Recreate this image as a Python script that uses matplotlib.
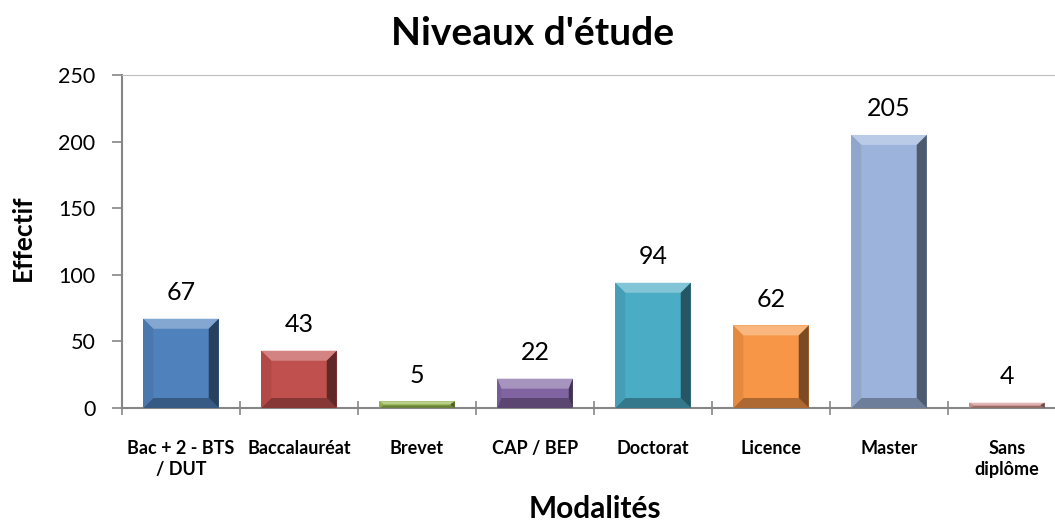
import numpy as np
import matplotlib
matplotlib.use('Agg')
import matplotlib.pyplot as plt
from matplotlib.patches import Polygon
from matplotlib.colors import to_rgb

# Data
categories = ['Bac + 2 - BTS\n/ DUT', 'Baccalauréat', 'Brevet', 'CAP / BEP',
              'Doctorat', 'Licence', 'Master', 'Sans\ndiplôme']
counts = [67, 43, 5, 22, 94, 62, 205, 4]
colors = ['#4F81BD', '#C0504D', '#9BBB59', '#8064A2',
          '#4BACC6', '#F79646', '#9CB4DC', '#D49A98']
y_ticks = [0, 50, 100, 150, 200, 250]

plt.rcParams['font.family'] = ['Lato', 'DejaVu Sans']

fig = plt.figure(figsize=(10.55, 5.22), dpi=100)
ax = fig.add_axes([122 / 1055, 1 - 408 / 522, 944 / 1055, 333 / 522])

x = np.arange(len(categories))
bars = ax.bar(x, counts, width=0.64, color=colors, zorder=2)


def shade(c, f):
    r = np.array(to_rgb(c))
    if f > 0:
        return tuple(r + (1 - r) * f)
    return tuple(r * (1 + f))


# fake the Excel bevel: light top, dark right/bottom edges
bx = 0.085
by_full = 7.5
for b, c in zip(bars, colors):
    x0, w, h = b.get_x(), b.get_width(), b.get_height()
    x1 = x0 + w
    by = min(by_full, h / 2.5)
    bxx = bx if h > 3 * by_full else bx * 0.4
    top = [(x0, h), (x1, h), (x1 - bxx, h - by), (x0 + bxx, h - by)]
    bot = [(x0, 0), (x1, 0), (x1 - bxx, by), (x0 + bxx, by)]
    lft = [(x0, 0), (x0, h), (x0 + bxx, h - by), (x0 + bxx, by)]
    rgt = [(x1, 0), (x1, h), (x1 - bxx, h - by), (x1 - bxx, by)]
    ax.add_patch(Polygon(top, closed=True, color=shade(c, 0.3), lw=0, zorder=3))
    ax.add_patch(Polygon(bot, closed=True, color=shade(c, -0.3), lw=0, zorder=3))
    ax.add_patch(Polygon(lft, closed=True, color=shade(c, -0.08), lw=0, zorder=3))
    ax.add_patch(Polygon(rgt, closed=True, color=shade(c, -0.5), lw=0, zorder=3))

for xi, v in zip(x, counts):
    ax.text(xi, v + 14, str(v), ha='center', va='baseline', fontsize=18, color='black')

ax.set_xlim(-0.5, len(categories) - 0.5)
ax.set_ylim(0, 250)
ax.set_yticks(y_ticks)
ax.set_yticklabels([str(t) for t in y_ticks], fontsize=15.5)

ax.set_xticks(x)
ax.set_xticklabels(categories, fontsize=13, fontweight='bold', linespacing=1.3)
ax.set_xticks(np.arange(len(categories) + 1) - 0.5, minor=True)
ax.tick_params(axis='x', which='major', length=0, pad=23)
ax.tick_params(axis='x', which='minor', length=10, direction='inout', color='#868686', width=1.2)
ax.tick_params(axis='y', length=7, color='#868686', width=1.2, pad=12)

for s in ['left', 'bottom']:
    ax.spines[s].set_color('#868686')
    ax.spines[s].set_linewidth(1.5)
ax.spines['top'].set_color('#BFBFBF')
ax.spines['right'].set_visible(False)

fig.text(23 / 1055, 1 - 238 / 522, 'Effectif', rotation=90, ha='center', va='center',
         fontsize=19, fontweight='bold')
fig.text(595 / 1055, 4 / 522, 'Modalités', ha='center', va='baseline', fontsize=21.5, fontweight='bold')
fig.text(533 / 1055, 1 - 45 / 522, "Niveaux d'étude", ha='center', va='baseline', fontsize=28, fontweight='bold')

plt.savefig('out.png', dpi=100)
